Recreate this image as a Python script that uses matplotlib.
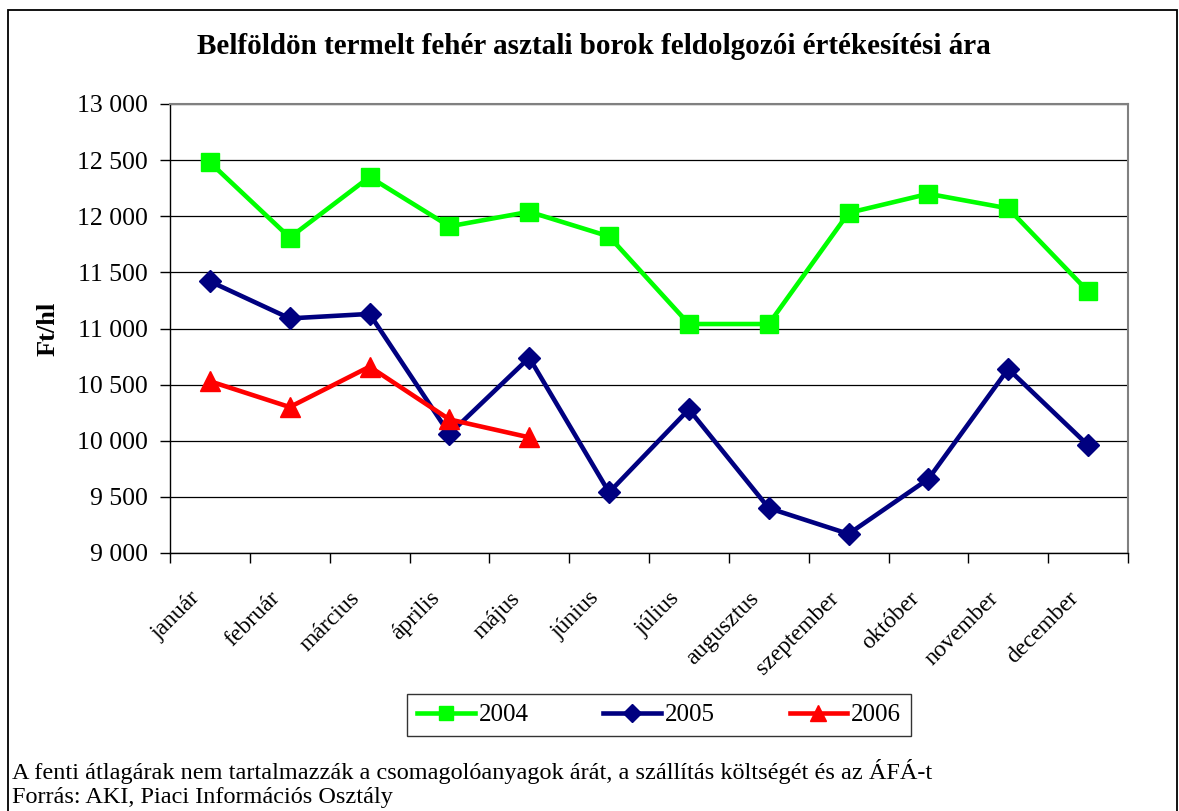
import numpy as np
import matplotlib
matplotlib.use('Agg')
import matplotlib.pyplot as plt
import matplotlib.transforms as mtransforms
from matplotlib.ticker import FuncFormatter, FixedLocator
from matplotlib.patches import Rectangle

plt.rcParams['font.family'] = ['Liberation Serif', 'DejaVu Serif']

months = ['január', 'február', 'március', 'április', 'május', 'június',
          'július', 'augusztus', 'szeptember', 'október', 'november', 'december']
v2004 = [12480, 11810, 12350, 11910, 12040, 11820, 11040, 11040, 12030, 12200, 12070, 11330]
v2005 = [11420, 11090, 11130, 10060, 10740, 9540, 10280, 9400, 9170, 9660, 10640, 9960]
v2006 = [10530, 10300, 10660, 10190, 10030]
yticks = [9000, 9500, 10000, 10500, 11000, 11500, 12000, 12500, 13000]

fig = plt.figure(figsize=(11.79, 8.11), dpi=100)
# outer frame of the chart object
fig.patches.append(Rectangle((8/1179, -0.01), 1169/1179, 1 - 10/811 + 0.01,
                             transform=fig.transFigure, fill=False, ec='black', lw=1.3))

ax = fig.add_axes([170/1179, 1-553/811, (1128-170)/1179, (553-104)/811])
x = np.arange(len(months))

ax.plot(x, v2004, color='#00FF00', lw=3.3, marker='s', ms=13, label='2004', zorder=3)
ax.plot(x, v2005, color='#000080', lw=3.3, marker='D', ms=11.5, label='2005', zorder=4)
ax.plot(x[:len(v2006)], v2006, color='#FF0000', lw=3.3, marker='^', ms=14, label='2006', zorder=5)

ax.set_xlim(-0.5, len(months)-0.5)
ax.set_ylim(9000, 13000)
ax.yaxis.set_major_locator(FixedLocator(yticks))
ax.yaxis.set_major_formatter(FuncFormatter(lambda v, p: f'{int(v):,}'.replace(',', ' ')))
ax.grid(axis='y', color='black', lw=0.9)
ax.set_axisbelow(True)

ax.set_xticks(x)
ax.set_xticklabels(months, rotation=45, ha='right', rotation_mode='anchor', fontsize=17)
ax.set_xticks(np.arange(-0.5, len(months)), minor=True)
ax.tick_params(axis='x', which='major', length=0, pad=25)
ax.tick_params(axis='x', which='minor', length=7, width=1, direction='out')
ax.tick_params(axis='y', length=7, width=1, direction='out', labelsize=18.5, pad=9)
shift = mtransforms.ScaledTranslation(-20/100, 0, fig.dpi_scale_trans)
for lbl in ax.get_xticklabels():
    lbl.set_transform(lbl.get_transform() + shift)

for s in ['top', 'right']:
    ax.spines[s].set_color('#808080')
    ax.spines[s].set_linewidth(1.5)
for s in ['left', 'bottom']:
    ax.spines[s].set_color('black')
    ax.spines[s].set_linewidth(1)

ax.set_ylabel('Ft/hl', fontsize=19, fontweight='bold')
ax.yaxis.set_label_coords(-110/958, 0.5)

fig.text(594/1179, 1-47/811, 'Belföldön termelt fehér asztali borok feldolgozói értékesítési ára',
         ha='center', va='center', fontsize=21, fontweight='bold')

leg = fig.legend(loc='center', bbox_to_anchor=(659/1179, 1-715/811), ncol=3, fontsize=18,
                 frameon=True, fancybox=False, edgecolor='black', handlelength=2.3,
                 columnspacing=3.0, handletextpad=0.15, borderpad=0.4, markerscale=0.8)
leg.get_frame().set_linewidth(1)

fig.text(12/1179, 1-771/811, 'A fenti átlagárak nem tartalmazzák a csomagolóanyagok árát, a szállítás költségét és az ÁFÁ-t',
         ha='left', va='center', fontsize=17.5)
fig.text(12/1179, 1-798/811, 'Forrás: AKI, Piaci Információs Osztály',
         ha='left', va='center', fontsize=17.5)

fig.savefig('out.png', dpi=100)
